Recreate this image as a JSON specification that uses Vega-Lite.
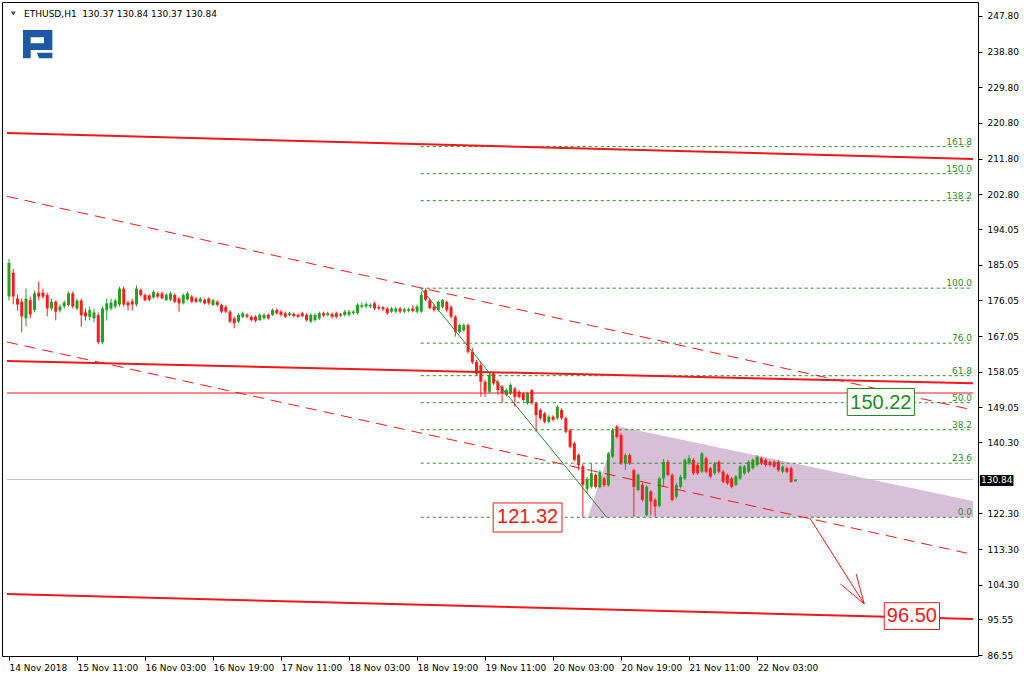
{
 "$schema": "https://vega.github.io/schema/vega-lite/v6.json",
 "width": 976, "height": 654,
 "autosize": {"type": "none"},
 "padding": {"left": 2, "top": 2, "right": 46, "bottom": 27},
 "background": "#ffffff",
 "config": {
  "view": {"stroke": "#000000", "strokeWidth": 1},
  "axis": {"grid": false, "domain": false, "labelOverlap": false, "labelFlush": false, "labelBound": false, "title": null}
 },
 "datasets": {
  "candles": [
   {"i":0,"o":177,"h":186.5,"l":176,"c":185.5},{"i":1,"o":183,"h":184,"l":175,"c":177},{"i":2,"o":176.5,"h":177.5,"l":173.5,"c":175},{"i":3,"o":175.7,"h":176.5,"l":168,"c":172},{"i":4,"o":171.5,"h":179,"l":169.5,"c":176.5},
   {"i":5,"o":176.1,"h":177,"l":171.5,"c":172.5},{"i":6,"o":173.6,"h":178.5,"l":173,"c":177.8},{"i":7,"o":178,"h":180.8,"l":176,"c":177},{"i":8,"o":178,"h":179,"l":176.5,"c":177},{"i":9,"o":177.4,"h":178,"l":172,"c":174},
   {"i":10,"o":174,"h":176.5,"l":173.5,"c":175.7},{"i":11,"o":175.7,"h":176,"l":171,"c":173.2},{"i":12,"o":173.5,"h":175,"l":173,"c":174.5},{"i":13,"o":174.5,"h":176,"l":174,"c":175.5},{"i":14,"o":174.9,"h":178.3,"l":174.5,"c":177.8},
   {"i":15,"o":177.8,"h":178.3,"l":174,"c":174.5},{"i":16,"o":174,"h":176.5,"l":173.5,"c":176},{"i":17,"o":176,"h":176.5,"l":169.4,"c":172.3},{"i":18,"o":173,"h":174,"l":171,"c":172},{"i":19,"o":171.9,"h":174.5,"l":171,"c":173.6},
   {"i":20,"o":171.5,"h":174,"l":170.5,"c":173},{"i":21,"o":172.3,"h":173,"l":165,"c":165.5},{"i":22,"o":165.5,"h":174.5,"l":165,"c":174},{"i":23,"o":173.6,"h":176.5,"l":171,"c":175.3},{"i":24,"o":174,"h":176.5,"l":173.5,"c":175.5},
   {"i":25,"o":174.5,"h":176.5,"l":174,"c":176},{"i":26,"o":175,"h":179.5,"l":174.5,"c":179},{"i":27,"o":179,"h":179.5,"l":174.5,"c":175},{"i":28,"o":175.5,"h":176,"l":173.5,"c":174.8},{"i":29,"o":175.8,"h":176.5,"l":173.5,"c":175},
   {"i":30,"o":175,"h":179.8,"l":174.5,"c":179},{"i":31,"o":178.7,"h":179,"l":177,"c":177.4},{"i":32,"o":177.4,"h":177.8,"l":175.8,"c":176.1},{"i":33,"o":177.3,"h":177.6,"l":175.8,"c":176.2},{"i":34,"o":176.8,"h":178.6,"l":176.5,"c":178.2},
   {"i":35,"o":177.8,"h":178.2,"l":176.6,"c":177},{"i":36,"o":177.8,"h":178.2,"l":176.3,"c":176.55},{"i":37,"o":176.1,"h":177.8,"l":175.9,"c":177.4},{"i":38,"o":176.2,"h":178.2,"l":175.8,"c":177.8},{"i":39,"o":177.4,"h":177.8,"l":175.4,"c":175.7},
   {"i":40,"o":176.5,"h":176.9,"l":173.2,"c":175.3},{"i":41,"o":175.3,"h":177.8,"l":175,"c":177.4},{"i":42,"o":176.3,"h":178.3,"l":176,"c":177.8},{"i":43,"o":177,"h":177.4,"l":175.4,"c":175.7},{"i":44,"o":176.5,"h":176.9,"l":175.4,"c":175.7},
   {"i":45,"o":175.7,"h":176.9,"l":175.4,"c":176.5},{"i":46,"o":176.1,"h":176.5,"l":175,"c":175.3},{"i":47,"o":176.5,"h":176.8,"l":174.9,"c":175.3},{"i":48,"o":174.9,"h":176.4,"l":174.6,"c":176.1},{"i":49,"o":175.7,"h":176.1,"l":174.5,"c":174.9},
   {"i":50,"o":174.9,"h":175.2,"l":172.9,"c":173.2},{"i":51,"o":174.4,"h":174.8,"l":172.8,"c":173.2},{"i":52,"o":173.2,"h":173.6,"l":170.3,"c":170.7},{"i":53,"o":171.5,"h":171.9,"l":169,"c":170.3},{"i":54,"o":170.7,"h":172.8,"l":170.3,"c":172.4},
   {"i":55,"o":171.9,"h":173.2,"l":171.5,"c":172.8},{"i":56,"o":172.4,"h":172.8,"l":171.5,"c":171.9},{"i":57,"o":171.9,"h":172.3,"l":170.7,"c":171.1},{"i":58,"o":171.9,"h":172.3,"l":170.5,"c":170.9},{"i":59,"o":171.1,"h":172.8,"l":170.8,"c":172.4},
   {"i":60,"o":171.5,"h":172.8,"l":171.2,"c":172.4},{"i":61,"o":172.4,"h":172.8,"l":171.2,"c":171.5},{"i":62,"o":172.4,"h":174,"l":172.1,"c":173.6},{"i":63,"o":173.6,"h":174,"l":172.5,"c":172.8},{"i":64,"o":173.2,"h":173.6,"l":172,"c":172.4},
   {"i":65,"o":172.8,"h":173.2,"l":171.6,"c":171.9},{"i":66,"o":172.3,"h":173.2,"l":172,"c":172.8},{"i":67,"o":172.6,"h":173,"l":171.8,"c":172.1},{"i":68,"o":172.4,"h":172.7,"l":171.6,"c":171.9},{"i":69,"o":172.8,"h":173.2,"l":171.8,"c":172.1},
   {"i":70,"o":172.4,"h":172.8,"l":170.7,"c":171.1},{"i":71,"o":170.7,"h":172.8,"l":170.3,"c":172.4},{"i":72,"o":171.1,"h":172.8,"l":170.7,"c":172.4},{"i":73,"o":171.5,"h":173.2,"l":171.1,"c":172.8},{"i":74,"o":172.8,"h":173.2,"l":171.8,"c":172.2},
   {"i":75,"o":172.3,"h":173.2,"l":172,"c":172.8},{"i":76,"o":172.6,"h":173,"l":171.5,"c":171.9},{"i":77,"o":172.8,"h":173.2,"l":171.5,"c":171.9},{"i":78,"o":172.5,"h":172.8,"l":171.9,"c":172.2},{"i":79,"o":172.35,"h":173.6,"l":172,"c":173.2},
   {"i":80,"o":172.4,"h":173.6,"l":172,"c":173.2},{"i":81,"o":172.8,"h":173.6,"l":172.4,"c":173.2},{"i":82,"o":172.8,"h":175.3,"l":172.4,"c":174.9},{"i":83,"o":174.45,"h":175.5,"l":174,"c":174.9},{"i":84,"o":174.5,"h":175.7,"l":174.1,"c":175.1},
   {"i":85,"o":174.5,"h":175.3,"l":174.1,"c":174.9},{"i":86,"o":175.3,"h":175.7,"l":173.6,"c":174},{"i":87,"o":174.4,"h":174.8,"l":173.6,"c":174},{"i":88,"o":174.3,"h":174.6,"l":173.4,"c":173.8},{"i":89,"o":174,"h":174.4,"l":172.4,"c":172.8},
   {"i":90,"o":173.2,"h":174.4,"l":172.8,"c":174},{"i":91,"o":173.2,"h":174.5,"l":172.8,"c":174},{"i":92,"o":174,"h":174.4,"l":172.8,"c":173.2},{"i":93,"o":173.2,"h":174.2,"l":172.8,"c":173.8},{"i":94,"o":173.4,"h":174.2,"l":173,"c":173.8},
   {"i":95,"o":174,"h":174.8,"l":173,"c":173.4},{"i":96,"o":173.2,"h":175,"l":172.8,"c":174.5},{"i":97,"o":173.2,"h":178.3,"l":172.8,"c":177.4},{"i":98,"o":178.6,"h":179.12,"l":175.8,"c":176.2},{"i":99,"o":176.1,"h":176.5,"l":173.8,"c":174.1},
   {"i":100,"o":174.5,"h":175,"l":173.2,"c":173.6},{"i":101,"o":173.6,"h":176,"l":173.2,"c":175.7},{"i":102,"o":174.4,"h":176.4,"l":174,"c":176.1},{"i":103,"o":175.7,"h":176,"l":173,"c":173.6},{"i":104,"o":174.4,"h":174.8,"l":171.5,"c":171.9},
   {"i":105,"o":171.9,"h":172.3,"l":166.9,"c":168.1},{"i":106,"o":168.1,"h":170.2,"l":167.7,"c":169.8},{"i":107,"o":168.5,"h":170.2,"l":168,"c":169.8},{"i":108,"o":169.8,"h":170.2,"l":162.6,"c":163.1},{"i":109,"o":163.1,"h":164,"l":160,"c":160.5},
   {"i":110,"o":160.5,"h":161,"l":157,"c":157.5},{"i":111,"o":159.7,"h":160.5,"l":151.7,"c":155.5},{"i":112,"o":155.5,"h":156,"l":151.7,"c":153},{"i":113,"o":153,"h":157.6,"l":152.6,"c":157.2},{"i":114,"o":157.6,"h":158,"l":154.7,"c":155.1},
   {"i":115,"o":155.5,"h":156,"l":152.2,"c":153.4},{"i":116,"o":154.3,"h":154.7,"l":150.1,"c":152.6},{"i":117,"o":152.2,"h":153.8,"l":151.8,"c":153.4},{"i":118,"o":152.6,"h":155.1,"l":152.2,"c":154.7},{"i":119,"o":153.8,"h":154.2,"l":149.2,"c":151.7},
   {"i":120,"o":153,"h":153.4,"l":151.3,"c":151.7},{"i":121,"o":152.6,"h":153,"l":150.5,"c":150.9},{"i":122,"o":150.1,"h":153,"l":149.7,"c":152.6},{"i":123,"o":153.4,"h":153.6,"l":149.7,"c":150.1},{"i":124,"o":150.1,"h":150.5,"l":142.9,"c":147.1},
   {"i":125,"o":148.4,"h":148.8,"l":145.9,"c":146.3},{"i":126,"o":147.5,"h":147.9,"l":145,"c":145.4},{"i":127,"o":145.4,"h":147.1,"l":145,"c":146.7},{"i":128,"o":146.7,"h":147.1,"l":145.5,"c":145.9},{"i":129,"o":146.3,"h":149.6,"l":145.9,"c":149.2},
   {"i":130,"o":148.4,"h":148.8,"l":145.9,"c":146.3},{"i":131,"o":146.3,"h":146.7,"l":142.5,"c":142.9},{"i":132,"o":143.3,"h":143.7,"l":138.7,"c":139.1},{"i":133,"o":140,"h":140.4,"l":135.4,"c":135.8},{"i":134,"o":137,"h":137.4,"l":133.2,"c":134.5},
   {"i":135,"o":134.2,"h":134.8,"l":121.32,"c":129.5},{"i":136,"o":128.5,"h":131.5,"l":127.5,"c":131},{"i":137,"o":129,"h":134.9,"l":128.6,"c":132.4},{"i":138,"o":132,"h":132.4,"l":128.6,"c":129},{"i":139,"o":128.9,"h":133.2,"l":128.6,"c":132.8},
   {"i":140,"o":131.1,"h":131.5,"l":129,"c":129.4},{"i":141,"o":129.4,"h":137.8,"l":129,"c":137.4},{"i":142,"o":136.6,"h":143.8,"l":136.2,"c":143.3},{"i":143,"o":144.2,"h":144.6,"l":141.2,"c":141.6},{"i":144,"o":142.1,"h":142.5,"l":134.5,"c":134.9},
   {"i":145,"o":134.9,"h":137.4,"l":133.2,"c":137},{"i":146,"o":137,"h":137.4,"l":134.5,"c":134.9},{"i":147,"o":133.2,"h":133.6,"l":121.5,"c":129},{"i":148,"o":128.2,"h":132.4,"l":127.8,"c":132},{"i":149,"o":129.5,"h":130,"l":125.3,"c":125.7},
   {"i":150,"o":121.9,"h":129.4,"l":121.5,"c":129},{"i":151,"o":127.8,"h":128.2,"l":121.9,"c":125.3},{"i":152,"o":125.7,"h":126.1,"l":121.5,"c":124},{"i":153,"o":124.2,"h":131.5,"l":123.8,"c":131.1},{"i":154,"o":131.1,"h":136,"l":129,"c":135.3},
   {"i":155,"o":135.3,"h":135.8,"l":131.6,"c":132},{"i":156,"o":132,"h":132.4,"l":125.3,"c":125.7},{"i":157,"o":126.5,"h":130,"l":126,"c":129.5},{"i":158,"o":129,"h":132,"l":128.6,"c":131.5},{"i":159,"o":131.1,"h":136.2,"l":130.7,"c":135.8},
   {"i":160,"o":134.9,"h":137,"l":134.5,"c":136.2},{"i":161,"o":135.8,"h":136.2,"l":132,"c":132.4},{"i":162,"o":134.5,"h":134.9,"l":132,"c":132.4},{"i":163,"o":132.8,"h":137.8,"l":132.4,"c":137.4},{"i":164,"o":136.2,"h":136.6,"l":132.4,"c":132.8},
   {"i":165,"o":133.7,"h":134,"l":131.2,"c":131.6},{"i":166,"o":132.4,"h":135.3,"l":132,"c":134.9},{"i":167,"o":135.3,"h":135.7,"l":132.4,"c":132.8},{"i":168,"o":132.8,"h":133.2,"l":129.9,"c":130.3},{"i":169,"o":132,"h":132.4,"l":129.5,"c":129.9},
   {"i":170,"o":131.1,"h":131.5,"l":128.6,"c":129},{"i":171,"o":129.5,"h":132,"l":129.1,"c":131.6},{"i":172,"o":131.1,"h":134.5,"l":130.7,"c":134.1},{"i":173,"o":132.4,"h":134.5,"l":132,"c":134.1},{"i":174,"o":132.8,"h":135.7,"l":132.4,"c":135.3},
   {"i":175,"o":133.7,"h":136.2,"l":133.3,"c":135.8},{"i":176,"o":134.5,"h":137,"l":134.1,"c":136.6},{"i":177,"o":136.2,"h":136.6,"l":134.5,"c":134.9},{"i":178,"o":135.8,"h":136.2,"l":134.1,"c":134.5},{"i":179,"o":135.3,"h":135.7,"l":134.1,"c":134.5},
   {"i":180,"o":135.3,"h":135.7,"l":133.7,"c":134.1},{"i":181,"o":135.3,"h":135.7,"l":132.8,"c":133.2},{"i":182,"o":132.8,"h":134.5,"l":132.4,"c":134.1},{"i":183,"o":133.7,"h":134.1,"l":132.4,"c":132.8},{"i":184,"o":133.7,"h":134.1,"l":130,"c":130.3},
   {"i":185,"o":130.37,"h":130.84,"l":130.37,"c":130.84}
  ],
  "tri": [
   {"h":136.2,"top":121.32,"bot":121.32},
   {"h":143.2,"top":144.3,"bot":121.32},
   {"h":226.78,"top":125.42,"bot":121.32}
  ],
  "segs": [
   {"kind":"price","h1":-0.466,"p1":130.84,"h2":226.78,"p2":130.84},
   {"kind":"channel","h1":-0.466,"p1":218.28,"h2":226.78,"p2":211.72},
   {"kind":"channel","h1":-0.466,"p1":160.75,"h2":226.78,"p2":155.1},
   {"kind":"channel","h1":-0.466,"p1":101.95,"h2":226.78,"p2":95.64},
   {"kind":"level","h1":-0.466,"p1":152.67,"h2":226.78,"p2":152.67},
   {"kind":"dashed","h1":-0.466,"p1":202.28,"h2":226.78,"p2":148.38},
   {"kind":"dashed","h1":-0.466,"p1":165.54,"h2":226.78,"p2":111.92},
   {"kind":"arrow","h1":188.4,"p1":121.13,"h2":201.2,"p2":99.43},
   {"kind":"arrow","h1":201.2,"p1":99.43,"h2":195.6,"p2":104.47},
   {"kind":"arrow","h1":201.2,"p1":99.43,"h2":199.3,"p2":107.0},
   {"kind":"trend","h1":96.86,"p1":179.12,"h2":140.6,"p2":121.32}
  ],
  "fib": [
   {"lv":"0.0","p":121.32},{"lv":"23.6","p":134.96},{"lv":"38.2","p":143.40},{"lv":"50.0","p":150.22},{"lv":"61.8","p":157.04},
   {"lv":"76.0","p":165.25},{"lv":"100.0","p":179.12},{"lv":"138.2","p":201.20},{"lv":"150.0","p":208.02},{"lv":"161.8","p":214.84}
  ],
  "tags": [
   {"txt":"150.22","kind":"up","h1":197.2,"h2":213.0,"p1":153.81,"p2":146.99,"hc":205.1,"pc":150.22},
   {"txt":"121.32","kind":"down","h1":113.9,"h2":130.1,"p1":124.92,"p2":117.6,"hc":122.0,"pc":121.32},
   {"txt":"96.50","kind":"down","h1":205.9,"h2":218.9,"p1":99.76,"p2":93.0,"hc":212.4,"pc":96.4}
  ]
 },
 "layer": [
  {
   "data": {"name": "tri"},
   "mark": {"type": "area", "color": "#d8bfd8", "clip": true},
   "encoding": {
    "x": {"field": "h", "type": "quantitative", "title": null,
     "scale": {"domain": [-0.466, 226.78], "nice": false, "zero": false},
     "axis": {"orient": "bottom", "values": [0,16,32,48,64,80,96,112,128,144,160,176], "tickCount": 40,
      "labelExpr": "['14 Nov 2018','15 Nov 11:00','16 Nov 03:00','16 Nov 19:00','17 Nov 11:00','18 Nov 03:00','18 Nov 19:00','19 Nov 11:00','20 Nov 03:00','20 Nov 19:00','21 Nov 11:00','22 Nov 03:00'][round(datum.value/16)]",
      "tickSize": 4, "tickColor": "#000000", "labelAlign": "left", "labelBaseline": "top", "labelPadding": 3,
      "labelFont": "DejaVu Sans", "labelFontSize": 9, "labelColor": "#000000", "labelOverlap": false, "labelFlush": false, "labelBound": false,
      "domain": false, "grid": false, "title": null}},
    "y": {"field": "top", "type": "quantitative", "title": null,
     "scale": {"domain": [86.31, 251.33], "nice": false, "zero": false},
     "axis": {"orient": "right", "values": [247.80,238.80,229.80,220.80,211.80,202.80,194.05,185.05,176.05,167.05,158.05,149.05,140.30,122.30,113.30,104.30,95.55,86.55], "tickCount": 40,
      "format": ".2f", "tickSize": 4, "tickColor": "#000000", "labelPadding": 5,
      "labelFont": "DejaVu Sans", "labelFontSize": 9, "labelColor": "#000000", "labelOverlap": false, "labelFlush": false, "labelBound": false,
      "domain": false, "grid": false, "title": null}},
    "y2": {"field": "bot"}
   }
  },
  {
   "data": {"name": "segs"},
   "transform": [{"filter": "datum.kind == 'price'"}],
   "mark": {"type": "rule", "color": "#c0c0c0", "strokeWidth": 1, "clip": true},
   "encoding": {"x": {"field": "h1", "type": "quantitative", "title": null}, "x2": {"field": "h2"}, "y": {"field": "p1", "type": "quantitative", "title": null}, "y2": {"field": "p2"}}
  },
  {
   "data": {"name": "candles"},
   "mark": {"type": "rule", "strokeWidth": 1, "clip": true},
   "encoding": {
    "x": {"field": "i", "type": "quantitative", "title": null},
    "y": {"field": "l", "type": "quantitative", "title": null},
    "y2": {"field": "h"},
    "color": {"condition": {"test": "datum.c >= datum.o", "value": "#24a024"}, "value": "#ff1c1c"}
   }
  },
  {
   "data": {"name": "candles"},
   "mark": {"type": "bar", "size": 3, "clip": true},
   "encoding": {
    "x": {"field": "i", "type": "quantitative", "title": null},
    "y": {"field": "o", "type": "quantitative", "title": null},
    "y2": {"field": "c"},
    "color": {"condition": {"test": "datum.c >= datum.o", "value": "#24a024"}, "value": "#ff1c1c"}
   }
  },
  {
   "data": {"name": "fib"},
   "mark": {"type": "rule", "color": "#2e8b2e", "strokeWidth": 1, "strokeDash": [3, 3], "clip": true},
   "encoding": {"x": {"datum": 96.86, "type": "quantitative", "title": null}, "x2": {"datum": 226.78}, "y": {"field": "p", "type": "quantitative", "title": null}}
  },
  {
   "data": {"name": "fib"},
   "mark": {"type": "text", "color": "#2e8b2e", "font": "DejaVu Sans", "fontSize": 9, "align": "right", "baseline": "alphabetic", "dy": -2},
   "encoding": {"x": {"datum": 226.55, "type": "quantitative", "title": null}, "y": {"field": "p", "type": "quantitative", "title": null}, "text": {"field": "lv"}}
  },
  {
   "data": {"name": "segs"},
   "transform": [{"filter": "datum.kind == 'channel'"}],
   "mark": {"type": "rule", "color": "#f01818", "strokeWidth": 2, "clip": true},
   "encoding": {"x": {"field": "h1", "type": "quantitative", "title": null}, "x2": {"field": "h2"}, "y": {"field": "p1", "type": "quantitative", "title": null}, "y2": {"field": "p2"}}
  },
  {
   "data": {"name": "segs"},
   "transform": [{"filter": "datum.kind == 'level' || datum.kind == 'arrow'"}],
   "mark": {"type": "rule", "color": "#f01818", "strokeWidth": 1, "clip": true},
   "encoding": {"x": {"field": "h1", "type": "quantitative", "title": null}, "x2": {"field": "h2"}, "y": {"field": "p1", "type": "quantitative", "title": null}, "y2": {"field": "p2"}}
  },
  {
   "data": {"name": "segs"},
   "transform": [{"filter": "datum.kind == 'dashed'"}],
   "mark": {"type": "rule", "color": "#f01818", "strokeWidth": 1, "strokeDash": [11, 7], "clip": true},
   "encoding": {"x": {"field": "h1", "type": "quantitative", "title": null}, "x2": {"field": "h2"}, "y": {"field": "p1", "type": "quantitative", "title": null}, "y2": {"field": "p2"}}
  },
  {
   "data": {"name": "segs"},
   "transform": [{"filter": "datum.kind == 'trend'"}],
   "mark": {"type": "rule", "color": "#2e8b2e", "strokeWidth": 1, "clip": true},
   "encoding": {"x": {"field": "h1", "type": "quantitative", "title": null}, "x2": {"field": "h2"}, "y": {"field": "p1", "type": "quantitative", "title": null}, "y2": {"field": "p2"}}
  },
  {
   "data": {"name": "tags"},
   "mark": {"type": "rect", "fill": "#ffffff", "strokeWidth": 1},
   "encoding": {
    "x": {"field": "h1", "type": "quantitative", "title": null}, "x2": {"field": "h2"},
    "y": {"field": "p1", "type": "quantitative", "title": null}, "y2": {"field": "p2"},
    "stroke": {"condition": {"test": "datum.kind == 'up'", "value": "#1f8a1f"}, "value": "#f01818"}
   }
  },
  {
   "data": {"name": "tags"},
   "mark": {"type": "text", "font": "Liberation Sans", "fontSize": 20, "align": "center", "baseline": "middle"},
   "encoding": {
    "x": {"field": "hc", "type": "quantitative", "title": null},
    "y": {"field": "pc", "type": "quantitative", "title": null},
    "text": {"field": "txt"},
    "color": {"condition": {"test": "datum.kind == 'up'", "value": "#1f8a1f"}, "value": "#f01818"}
   }
  },
  {
   "data": {"values": [{"label": "ETHUSD,H1\u00a0\u00a0130.37 130.84 130.37 130.84"}]},
   "mark": {"type": "text", "font": "DejaVu Sans", "fontSize": 9, "align": "left", "baseline": "alphabetic", "color": "#000000"},
   "encoding": {"x": {"datum": 3.56, "type": "quantitative", "title": null}, "y": {"datum": 247.55, "type": "quantitative", "title": null}, "text": {"field": "label"}}
  },
  {
   "data": {"values": [{"marker": "menu"}]},
   "mark": {"type": "point", "shape": "triangle-down", "filled": true, "size": 22, "color": "#000000"},
   "encoding": {"x": {"datum": 1.02, "type": "quantitative", "title": null}, "y": {"datum": 248.43, "type": "quantitative", "title": null}}
  },
  {
   "data": {"values": [{"logo": "RoboForex"}]},
   "mark": {"type": "point", "shape": "M-1,-0.963H1V0.398H-0.476V0.963H-1Z M-0.476,-0.466V-0.058H0.429V-0.466Z M-0.048,0.582H1V0.963H0.088Z", "filled": true, "size": 864, "color": "#1c5aa8", "opacity": 1, "strokeWidth": 0},
   "encoding": {"x": {"datum": 6.75, "type": "quantitative", "title": null}, "y": {"datum": 240.70, "type": "quantitative", "title": null}}
  },
  {
   "data": {"values": [{"last": "130.84"}]},
   "mark": {"type": "rect", "fill": "#000000"},
   "encoding": {"x": {"datum": 228.4, "type": "quantitative", "title": null}, "x2": {"datum": 236.3}, "y": {"datum": 131.98, "type": "quantitative", "title": null}, "y2": {"datum": 129.21}}
  },
  {
   "data": {"values": [{"last": "130.84"}]},
   "mark": {"type": "text", "font": "DejaVu Sans", "fontSize": 9, "align": "center", "baseline": "middle", "color": "#ffffff"},
   "encoding": {"x": {"datum": 232.35, "type": "quantitative", "title": null}, "y": {"datum": 130.6, "type": "quantitative", "title": null}, "text": {"field": "last"}}
  }
 ]
}
